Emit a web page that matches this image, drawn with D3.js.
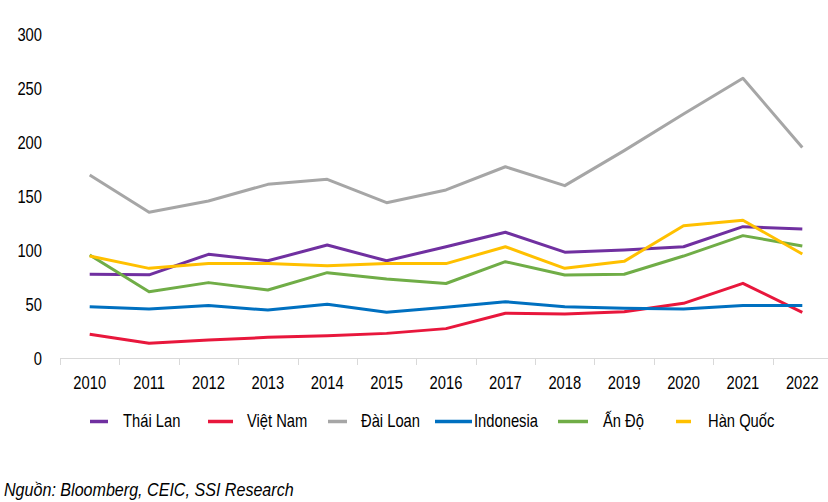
<!DOCTYPE html>
<html>
<head>
<meta charset="utf-8">
<script src="https://cdn.jsdelivr.net/npm/d3@7"></script>
<style>
  body { margin: 0; background: #fff; }
  text { font-family: "Liberation Sans", Arial, sans-serif; fill: #000; font-size: 18px; }
</style>
</head>
<body>
<script>
// du lieu doc tu hinh
var years = ["2010","2011","2012","2013","2014","2015","2016","2017","2018","2019","2020","2021","2022"];
var thaiLan   = [77.5, 77, 96, 90, 104.6, 90, 103, 116.4, 98, 100, 103, 121.6, 119.4];
var vietNam   = [21.9, 13.6, 16.7, 19.1, 20.7, 22.8, 27.2, 41.4, 40.7, 42.9, 50.6, 69.1, 42.3];
var daiLoan   = [169.4, 134.9, 145.4, 160.8, 165.4, 143.8, 155.6, 177.1, 159.6, 192, 226, 259, 195];
var indonesia = [47.5, 45.4, 48.5, 44.4, 49.7, 42.3, 46.9, 52.1, 47.5, 46, 45.4, 48.5, 48.5];
var anDo      = [95.4, 61.4, 69.8, 63, 79, 73.1, 69, 89.2, 76.9, 77.5, 94.4, 113.3, 103.7];
var hanQuoc   = [94.4, 83, 87.6, 87.6, 85.5, 87.6, 87.4, 103, 83, 89.5, 122.5, 127.5, 96.3];
var seriesNames = ["Thái Lan", "Việt Nam", "Đài Loan", "Indonesia", "Ấn Độ", "Hàn Quốc"];
var yTicks = [0, 50, 100, 150, 200, 250, 300];

var allSeries = [thaiLan, vietNam, daiLoan, indonesia, anDo, hanQuoc];
var colors = ["#7030A0", "#E8173C", "#A6A6A6", "#0070C0", "#70AD47", "#FFC000"];
// vi tri chu thich (layout)
var legendLine = [[90,108],[208,233],[328,347],[435,472],[558,588],[676,691]];
var legendText = [123, 247, 361, 474, 603, 708];
var narrow = 0.82; // gia lap Arial Narrow

var width = 828, height = 502;
var svg = d3.select("body").append("svg").attr("width", width).attr("height", height);

function label(px, py, txt, anchor, sx) {
  return svg.append("text")
    .attr("transform", "translate(" + px + "," + py + ") scale(" + (sx || narrow) + ",1)")
    .attr("text-anchor", anchor || "start")
    .text(txt);
}

var x = d3.scaleBand().domain(years).range([60, 832]);
var y = d3.scaleLinear().domain([0, 300]).range([358, 34]);

// truc x
svg.append("line").attr("x1", 60).attr("x2", 832).attr("y1", 358.5).attr("y2", 358.5)
  .attr("stroke", "#d9d9d9").attr("stroke-width", 1);
svg.selectAll(".tk").data(years).enter().append("line")
  .attr("x1", function(d){ return Math.round(x(d)) + 0.5; })
  .attr("x2", function(d){ return Math.round(x(d)) + 0.5; })
  .attr("y1", 358).attr("y2", 365)
  .attr("stroke", "#d9d9d9");
years.forEach(function(d) {
  label(x(d) + x.bandwidth()/2, 389, d, "middle");
});

// truc y
yTicks.forEach(function(d) {
  label(42, y(d) + 6.5, d, "end");
});

var line = d3.line()
  .x(function(d, i){ return x(years[i]) + x.bandwidth()/2; })
  .y(function(d){ return y(d); });

allSeries.forEach(function(s, i) {
  svg.append("path")
    .attr("fill", "none")
    .attr("stroke", colors[i])
    .attr("stroke-width", 3)
    .attr("stroke-linejoin", "round")
    .attr("d", line(s));
});

// chu thich
seriesNames.forEach(function(n, i) {
  svg.append("line")
    .attr("x1", legendLine[i][0]).attr("x2", legendLine[i][1])
    .attr("y1", 421.5).attr("y2", 421.5)
    .attr("stroke", colors[i]).attr("stroke-width", 3.5);
  label(legendText[i], 427, n);
});

label(4, 496, "Nguồn: Bloomberg, CEIC, SSI Research", "start", 0.87)
  .style("font-style", "italic").style("font-size", "18.5px");
</script>
</body>
</html>
